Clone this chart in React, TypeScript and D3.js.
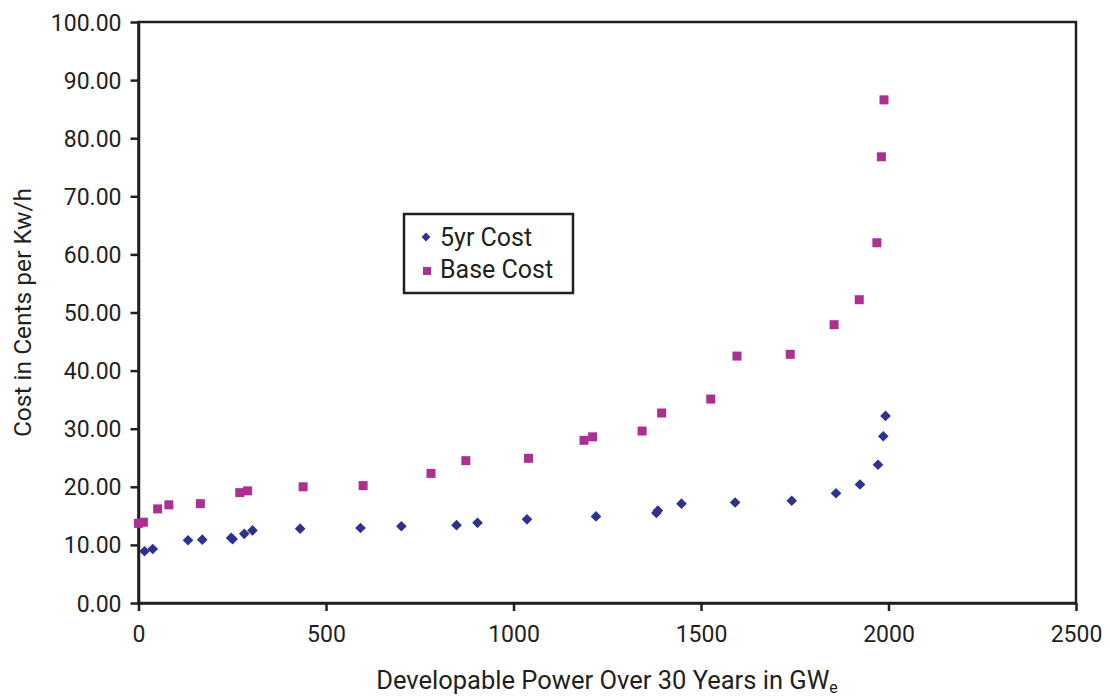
import React, { useEffect, useRef } from 'react';
import * as d3 from 'd3';

// Developable power (GWe) and cost values
const fiveYrX = [16, 38, 132, 170, 247, 251, 282, 304, 431, 592, 701, 848, 904, 1036, 1220, 1381, 1385, 1448, 1591, 1742, 1860, 1924, 1972, 1986, 1992];
const fiveYrCost = [8.9, 9.3, 10.8, 10.9, 11.2, 11.0, 11.9, 12.5, 12.8, 12.9, 13.2, 13.4, 13.8, 14.4, 14.9, 15.5, 15.9, 17.1, 17.3, 17.6, 18.9, 20.4, 23.8, 28.7, 32.2];

const baseX = [0, 13, 51, 81, 165, 270, 291, 439, 599, 780, 873, 1040, 1188, 1211, 1343, 1395, 1526, 1596, 1738, 1855, 1922, 1969, 1981, 1988];
const baseCost = [13.7, 13.9, 16.2, 16.9, 17.1, 19.0, 19.3, 20.0, 20.2, 22.3, 24.5, 24.9, 28.0, 28.6, 29.6, 32.7, 35.1, 42.5, 42.8, 47.9, 52.2, 62.0, 76.8, 86.6];

const xTicks = [0, 500, 1000, 1500, 2000, 2500];
const yTicks = [0, 10, 20, 30, 40, 50, 60, 70, 80, 90, 100];

const W = 1110;
const H = 698;
const FONT = 'Roboto, "DejaVu Sans", sans-serif';
const INK = '#231f20';
const BLUE = '#2e3192';
const MAGENTA = '#ae2f91';

const App: React.FC = () => {
  const svgRef = useRef<SVGSVGElement>(null);

  useEffect(() => {
    if (!svgRef.current) return;
    const svg = d3.select(svgRef.current);
    svg.selectAll('*').remove();

    const left = 138.5, right = 1076, top = 22, bottom = 603;

    const x = d3.scaleLinear().domain([0, 2500]).range([left, right]);
    const y = d3.scaleLinear().domain([0, 100]).range([bottom, top]);

    // plot frame
    svg.append('rect')
      .attr('x', left).attr('y', top)
      .attr('width', right - left).attr('height', bottom - top)
      .attr('fill', 'none').attr('stroke', INK).attr('stroke-width', 2.5);

    // y axis
    const yAxis = svg.append('g')
      .attr('transform', `translate(${left},0)`)
      .call(d3.axisLeft(y).tickValues(yTicks).tickFormat(d3.format('.2f')).tickSize(8).tickSizeOuter(0));
    yAxis.select('.domain').attr('stroke', INK).attr('stroke-width', 2.5);
    yAxis.selectAll('line').attr('stroke', INK).attr('stroke-width', 2.5);
    yAxis.selectAll('text')
      .attr('font-family', FONT).attr('font-size', 23).attr('fill', INK)
      .attr('x', -17).attr('dy', '0.35em');

    // x axis
    const xAxis = svg.append('g')
      .attr('transform', `translate(0,${bottom})`)
      .call(d3.axisBottom(x).tickValues(xTicks).tickFormat(d3.format('d')).tickSize(8).tickSizeOuter(0));
    xAxis.select('.domain').attr('stroke', INK).attr('stroke-width', 2.5);
    xAxis.selectAll('line').attr('stroke', INK).attr('stroke-width', 2.5);
    xAxis.selectAll('text')
      .attr('font-family', FONT).attr('font-size', 23).attr('fill', INK)
      .attr('y', 23).attr('dy', '0.71em');

    // axis titles
    svg.append('text')
      .attr('transform', `translate(31,${(top + bottom) / 2}) rotate(-90)`)
      .attr('text-anchor', 'middle')
      .attr('font-family', FONT).attr('font-size', 24.5).attr('fill', INK)
      .text('Cost in Cents per Kw/h');

    const xt = svg.append('text')
      .attr('x', 607).attr('y', 689)
      .attr('text-anchor', 'middle')
      .attr('font-family', FONT).attr('font-size', 25.5).attr('fill', INK);
    xt.append('tspan').text('Developable Power Over 30 Years in GW');
    xt.append('tspan').attr('font-size', 16).attr('dy', 4).text('e');

    const diamond = d3.symbol().type(d3.symbolDiamond2).size(72);

    // 5yr cost
    svg.append('g').selectAll('path')
      .data(fiveYrX)
      .join('path')
      .attr('d', diamond() as string)
      .attr('transform', (d, i) => `translate(${x(d)},${y(fiveYrCost[i])})`)
      .attr('fill', BLUE);

    // base cost
    const sq = 9;
    svg.append('g').selectAll('rect')
      .data(baseX)
      .join('rect')
      .attr('x', d => x(d) - sq / 2)
      .attr('y', (d, i) => y(baseCost[i]) - sq / 2)
      .attr('width', sq).attr('height', sq)
      .attr('fill', MAGENTA);

    // legend
    const lg = svg.append('g').attr('transform', 'translate(404,214)');
    lg.append('rect')
      .attr('width', 169).attr('height', 79)
      .attr('fill', 'white').attr('stroke', INK).attr('stroke-width', 2.5);
    lg.append('path')
      .attr('d', d3.symbol().type(d3.symbolDiamond2).size(50)() as string)
      .attr('transform', 'translate(22,23)')
      .attr('fill', BLUE);
    lg.append('rect')
      .attr('x', 19).attr('y', 53).attr('width', 8).attr('height', 8)
      .attr('fill', MAGENTA);
    lg.append('text')
      .attr('x', 36).attr('y', 32)
      .attr('font-family', FONT).attr('font-size', 25).attr('fill', INK)
      .text('5yr Cost');
    lg.append('text')
      .attr('x', 36).attr('y', 64)
      .attr('font-family', FONT).attr('font-size', 25).attr('fill', INK)
      .text('Base Cost');
  }, []);

  return (
    <svg
      ref={svgRef}
      width={W}
      height={H}
      style={{ position: 'absolute', left: 0, top: 0, background: 'white' }}
    />
  );
};

export default App;
